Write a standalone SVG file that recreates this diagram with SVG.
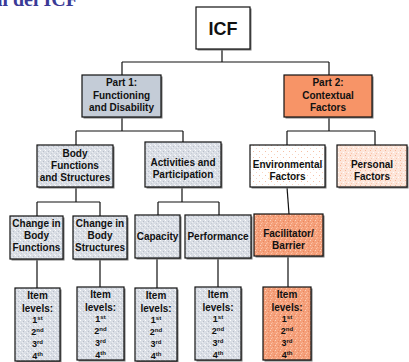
<svg xmlns="http://www.w3.org/2000/svg" width="409" height="362" viewBox="0 0 409 362">
<defs>
<pattern id="gTex" width="5" height="5" patternUnits="userSpaceOnUse">
<rect width="5" height="5" fill="#dadee5"/>
<rect x="0" y="0" width="1" height="1" fill="#ffffff"/>
<rect x="3" y="1" width="1" height="1" fill="#b9bfc9"/>
<rect x="1" y="3" width="1" height="1" fill="#c6ccd5"/>
<rect x="4" y="4" width="1" height="1" fill="#f3f4f7"/>
<rect x="2" y="2" width="1" height="1" fill="#eceef2"/>
</pattern>
<pattern id="oTex" width="5" height="5" patternUnits="userSpaceOnUse">
<rect width="5" height="5" fill="#f5a07b"/>
<rect x="0" y="0" width="1" height="1" fill="#fbd2bd"/>
<rect x="3" y="1" width="1" height="1" fill="#e9875c"/>
<rect x="1" y="3" width="1" height="1" fill="#fcc5a9"/>
<rect x="4" y="4" width="1" height="1" fill="#ee9066"/>
<rect x="2" y="2" width="1" height="1" fill="#fab896"/>
</pattern>
<pattern id="pTex" width="5" height="5" patternUnits="userSpaceOnUse">
<rect width="5" height="5" fill="#fde6da"/>
<rect x="0" y="0" width="1" height="1" fill="#f5b597"/>
<rect x="3" y="2" width="1" height="1" fill="#ffffff"/>
<rect x="1" y="3" width="1" height="1" fill="#f8c7ae"/>
</pattern>
<pattern id="eTex" width="6" height="6" patternUnits="userSpaceOnUse">
<rect width="6" height="6" fill="#ffffff"/>
<rect x="1" y="1" width="1" height="1" fill="#f6c0a6"/>
<rect x="4" y="4" width="1" height="1" fill="#f9d5c3"/>
</pattern>
</defs>
<style>
.box{stroke:#111;stroke-width:1.2}
.sh{fill:#7a7a7a}
.t{font-family:"Liberation Sans",Arial,sans-serif;font-weight:bold;font-size:10px;fill:#111;text-anchor:middle}
.n{font-size:9px}
.sup{font-size:6px}
.c{fill:none;stroke:#111;stroke-width:1.2}
.title{font-family:"Liberation Serif","DejaVu Serif",serif;font-weight:bold;font-size:20px;fill:#3a3a96}
</style>

<text class="title" x="78" y="6" text-anchor="end">al del ICF</text>

<g id="connectors">
<path class="c" d="M222 49V62M122 62H329M122 62V75M329 62V75"/>
<path class="c" d="M122 117V131M76 131H183M76 131V145M183 131V142"/>
<path class="c" d="M329 117V131M287 131H375M287 131V145M375 131V145"/>
<path class="c" d="M76 187V202M37 202H100M37 202V216M100 202V216"/>
<path class="c" d="M182 187V202M158 202H219M158 202V215M219 202V215"/>
<path class="c" d="M287 187L289 214"/>
<path class="c" d="M37 259V288M100 259V287M157 258V288M218 258V287M288 256V287"/>
</g>

<g id="icf">
<rect class="sh" x="197.5" y="8.5" width="54" height="42"/>
<rect class="box" x="196" y="7" width="54" height="42" fill="#ffffff"/>
<text class="t" x="223" y="35" style="font-size:18px">ICF</text>
</g>

<g id="part1">
<rect class="sh" x="83.5" y="76.5" width="79" height="42"/>
<rect class="box" x="82" y="75" width="79" height="42" fill="#c4ccd7"/>
<text class="t" x="121.5" y="86">Part 1:</text>
<text class="t" x="121.5" y="98.5">Functioning</text>
<text class="t" x="121.5" y="111">and Disability</text>
</g>

<g id="part2">
<rect class="sh" x="285.5" y="76.5" width="88" height="42"/>
<rect class="box" x="284" y="75" width="88" height="42" fill="#f79467"/>
<text class="t" x="328" y="86">Part 2:</text>
<text class="t" x="328" y="98.5">Contextual</text>
<text class="t" x="328" y="111">Factors</text>
</g>

<g id="body">
<rect class="sh" x="38.5" y="146.5" width="76" height="42"/>
<rect class="box" x="37" y="145" width="76" height="42" fill="url(#gTex)"/>
<text class="t" x="75" y="157">Body</text>
<text class="t" x="75" y="169">Functions</text>
<text class="t" x="75" y="181">and Structures</text>
</g>

<g id="activities">
<rect class="sh" x="146.5" y="143.5" width="76" height="45"/>
<rect class="box" x="145" y="142" width="76" height="45" fill="url(#gTex)"/>
<text class="t" x="183" y="166">Activities and</text>
<text class="t" x="183" y="178">Participation</text>
</g>

<g id="environmental">
<rect class="sh" x="251.5" y="146.5" width="75" height="42"/>
<rect class="box" x="250" y="145" width="75" height="42" fill="url(#eTex)"/>
<text class="t" x="287.5" y="168">Environmental</text>
<text class="t" x="287.5" y="180">Factors</text>
</g>

<g id="personal">
<rect class="sh" x="338.5" y="146.5" width="70" height="42"/>
<rect class="box" x="337" y="145" width="70" height="42" fill="url(#pTex)"/>
<text class="t" x="372" y="168">Personal</text>
<text class="t" x="372" y="180">Factors</text>
</g>

<g id="changeFunctions">
<rect class="sh" x="11.5" y="217.5" width="53" height="43"/>
<rect class="box" x="10" y="216" width="53" height="43" fill="url(#gTex)"/>
<text class="t" x="36.5" y="227">Change in</text>
<text class="t" x="36.5" y="239">Body</text>
<text class="t" x="36.5" y="251">Functions</text>
</g>

<g id="changeStructures">
<rect class="sh" x="74.5" y="217.5" width="54" height="43"/>
<rect class="box" x="73" y="216" width="54" height="43" fill="url(#gTex)"/>
<text class="t" x="100" y="227">Change in</text>
<text class="t" x="100" y="239">Body</text>
<text class="t" x="100" y="251">Structures</text>
</g>

<g id="capacity">
<rect class="sh" x="136.5" y="216.5" width="45" height="43"/>
<rect class="box" x="135" y="215" width="45" height="43" fill="url(#gTex)"/>
<text class="t" x="157.5" y="240">Capacity</text>
</g>

<g id="performance">
<rect class="sh" x="186.5" y="216.5" width="66" height="43"/>
<rect class="box" x="185" y="215" width="66" height="43" fill="url(#gTex)"/>
<text class="t" x="218" y="240">Performance</text>
</g>

<g id="facilitator">
<rect class="sh" x="255.5" y="215.5" width="69" height="42"/>
<rect class="box" x="254" y="214" width="69" height="42" fill="url(#oTex)"/>
<text class="t" x="288.5" y="237">Facilitator/</text>
<text class="t" x="288.5" y="249">Barrier</text>
</g>

<g id="items1">
<rect class="sh" x="16.5" y="289.5" width="45" height="73"/>
<rect class="box" x="15" y="288" width="45" height="73" fill="url(#gTex)"/>
<text class="t" x="37.5" y="299">Item</text>
<text class="t" x="37.5" y="312">levels:</text>
<text class="t n" x="37.5" y="323">1<tspan class="sup" dy="-3">st</tspan></text>
<text class="t n" x="37.5" y="335">2<tspan class="sup" dy="-3">nd</tspan></text>
<text class="t n" x="37.5" y="347">3<tspan class="sup" dy="-3">rd</tspan></text>
<text class="t n" x="37.5" y="359">4<tspan class="sup" dy="-3">th</tspan></text>
</g>

<g id="items2">
<rect class="sh" x="78.5" y="288.5" width="47" height="73"/>
<rect class="box" x="77" y="287" width="47" height="73" fill="url(#gTex)"/>
<text class="t" x="100.5" y="298">Item</text>
<text class="t" x="100.5" y="311">levels:</text>
<text class="t n" x="100.5" y="322">1<tspan class="sup" dy="-3">st</tspan></text>
<text class="t n" x="100.5" y="334">2<tspan class="sup" dy="-3">nd</tspan></text>
<text class="t n" x="100.5" y="346">3<tspan class="sup" dy="-3">rd</tspan></text>
<text class="t n" x="100.5" y="358">4<tspan class="sup" dy="-3">th</tspan></text>
</g>

<g id="items3">
<rect class="sh" x="136.5" y="289.5" width="42" height="73"/>
<rect class="box" x="135" y="288" width="42" height="73" fill="url(#gTex)"/>
<text class="t" x="156" y="299">Item</text>
<text class="t" x="156" y="312">levels:</text>
<text class="t n" x="156" y="323">1<tspan class="sup" dy="-3">st</tspan></text>
<text class="t n" x="156" y="335">2<tspan class="sup" dy="-3">nd</tspan></text>
<text class="t n" x="156" y="347">3<tspan class="sup" dy="-3">rd</tspan></text>
<text class="t n" x="156" y="359">4<tspan class="sup" dy="-3">th</tspan></text>
</g>

<g id="items4">
<rect class="sh" x="196.5" y="288.5" width="46" height="73"/>
<rect class="box" x="195" y="287" width="46" height="73" fill="url(#gTex)"/>
<text class="t" x="218" y="298">Item</text>
<text class="t" x="218" y="311">levels:</text>
<text class="t n" x="218" y="322">1<tspan class="sup" dy="-3">st</tspan></text>
<text class="t n" x="218" y="334">2<tspan class="sup" dy="-3">nd</tspan></text>
<text class="t n" x="218" y="346">3<tspan class="sup" dy="-3">rd</tspan></text>
<text class="t n" x="218" y="358">4<tspan class="sup" dy="-3">th</tspan></text>
</g>

<g id="items5">
<rect class="sh" x="264.5" y="288.5" width="48" height="73"/>
<rect class="box" x="263" y="287" width="48" height="73" fill="url(#oTex)"/>
<text class="t" x="287" y="298">Item</text>
<text class="t" x="287" y="311">levels:</text>
<text class="t n" x="287" y="322">1<tspan class="sup" dy="-3">st</tspan></text>
<text class="t n" x="287" y="334">2<tspan class="sup" dy="-3">nd</tspan></text>
<text class="t n" x="287" y="346">3<tspan class="sup" dy="-3">rd</tspan></text>
<text class="t n" x="287" y="358">4<tspan class="sup" dy="-3">th</tspan></text>
</g>
</svg>
